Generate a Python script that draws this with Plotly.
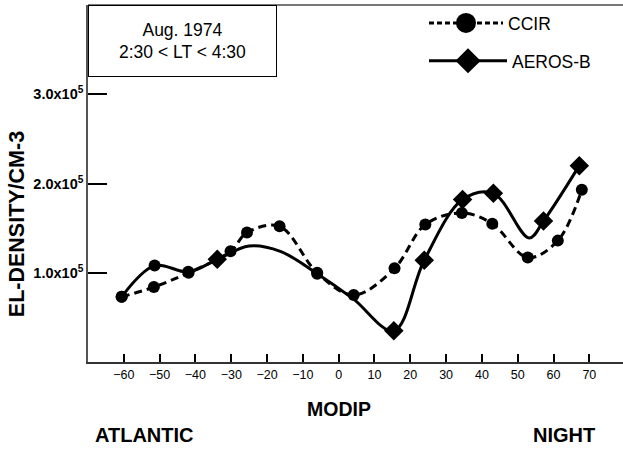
import plotly.graph_objects as go

# ---- data ----
modip_ccir = [-60.6, -51.6, -41.9, -30.2, -25.6, -16.5, -6.0, 4.2, 15.6, 24.2, 34.4, 42.9, 52.8, 61.2, 67.9]
dens_ccir = [73000, 84000, 100000, 124000, 145000, 152000, 100000, 75000, 105000, 154000, 167000, 155000, 117000, 136000, 193000]

modip_aeros = [-60.6, -51.4, -42.0, -33.9, -25.0, -16.3, -6.0, 4.0, 15.4, 23.9, 34.6, 43.2, 53.2, 57.2, 67.2]
dens_aeros = [73000, 108000, 101000, 115000, 130000, 124000, 99000, 71000, 35000, 114000, 182000, 189000, 139000, 158000, 220000]
# which AEROS-B nodes carry a marker (circle / diamond / none)
aeros_marker = ["circle", "circle", "circle", "diamond", "", "", "circle", "", "diamond",
                "diamond", "diamond", "diamond", "", "diamond", "diamond"]

x_ticks = [-60, -50, -40, -30, -20, -10, 0, 10, 20, 30, 40, 50, 60, 70]
y_ticks = [100000, 200000, 300000]
y_ticktext = ["1.0x10<sup>5</sup>", "2.0x10<sup>5</sup>", "3.0x10<sup>5</sup>"]

FONT = "Liberation Sans, Arial, sans-serif"

sym = [m if m else "circle" for m in aeros_marker]
size = [0 if not m else (15 if m == "diamond" else 12) for m in aeros_marker]

fig = go.Figure()
fig.add_trace(go.Scatter(
    x=modip_aeros, y=dens_aeros, mode="lines+markers", showlegend=False,
    line=dict(color="black", width=3, shape="spline", smoothing=1),
    marker=dict(color="black", symbol=sym, size=size, opacity=1, line=dict(width=0)),
))
fig.add_trace(go.Scatter(
    x=modip_ccir, y=dens_ccir, mode="lines+markers", showlegend=False,
    line=dict(color="black", width=3, dash="8px,5px", shape="spline", smoothing=1),
    marker=dict(color="black", symbol="circle", size=12, opacity=1, line=dict(width=0)),
))
# legend entries
fig.add_trace(go.Scatter(
    x=[None], y=[None], mode="lines+markers", name="CCIR", legend="legend",
    line=dict(color="black", width=3, dash="5px,3px"),
    marker=dict(color="black", symbol="circle", size=16, line=dict(color="black", width=4)),
))
fig.add_trace(go.Scatter(
    x=[None], y=[None], mode="lines+markers", name="AEROS-B", legend="legend2",
    line=dict(color="black", width=3),
    marker=dict(color="black", symbol="diamond", size=16, line=dict(color="black", width=3)),
))

W, H = 623, 449
L, R, T, B = 88, 0, 5, 86.5
pw, ph = W - L - R, H - T - B


def px(xp):
    return (xp - L) / pw


def py(yp):
    return (H - B - yp) / ph


fig.update_layout(
    width=W, height=H, autosize=False,
    margin=dict(l=L, r=R, t=T, b=B, pad=0),
    paper_bgcolor="white", plot_bgcolor="white",
    font=dict(family=FONT, color="black"),
    xaxis=dict(range=[-70, 79.4], tickvals=x_ticks, ticks="inside", ticklen=8, tickwidth=2,
               tickcolor="black", showgrid=False, zeroline=False, showline=True,
               linecolor="#333333", linewidth=2,
               tickfont=dict(size=12.5, family=FONT)),
    yaxis=dict(range=[0, 400000], tickvals=y_ticks, ticktext=y_ticktext, ticks="inside",
               ticklen=19, tickwidth=2, tickcolor="black", showgrid=False, zeroline=False,
               showline=True, linecolor="#555555", linewidth=1.5,
               tickfont=dict(size=14.5, family=FONT, weight="bold")),
    legend=dict(x=px(424), y=py(5), xanchor="left", yanchor="top", itemwidth=74,
                font=dict(size=17.5, family=FONT), bgcolor="rgba(0,0,0,0)"),
    legend2=dict(x=px(424), y=py(43), xanchor="left", yanchor="top", itemwidth=78,
                 font=dict(size=17.5, family=FONT), bgcolor="rgba(0,0,0,0)"),
    shapes=[dict(type="line", xref="paper", yref="paper", x0=0, x1=1, y0=1, y1=1,
                 line=dict(color="#777777", width=2))],
    annotations=[
        dict(text="Aug. 1974<br>2:30 &lt; LT &lt; 4:30", xref="paper", yref="paper",
             x=0, y=1, xanchor="left", yanchor="top", showarrow=False, align="center",
             width=185, height=68, borderpad=1, borderwidth=1, bordercolor="black",
             bgcolor="white", font=dict(size=17.5, family=FONT)),
        dict(text="<b>EL-DENSITY/CM-3</b>", xref="paper", yref="paper", x=px(16.5), y=py(225),
             xanchor="center", yanchor="middle", textangle=-90, showarrow=False,
             font=dict(size=21.5, family=FONT)),
        dict(text="<b>MODIP</b>", xref="paper", yref="paper", x=px(339), y=py(410),
             xanchor="center", yanchor="middle", showarrow=False, font=dict(size=19.5, family=FONT)),
        dict(text="<b>ATLANTIC</b>", xref="paper", yref="paper", x=px(93), y=py(436),
             xanchor="left", yanchor="middle", showarrow=False, font=dict(size=20, family=FONT)),
        dict(text="<b>NIGHT</b>", xref="paper", yref="paper", x=px(597), y=py(436),
             xanchor="right", yanchor="middle", showarrow=False, font=dict(size=20, family=FONT)),
    ],
)

fig.write_html("out.html")
